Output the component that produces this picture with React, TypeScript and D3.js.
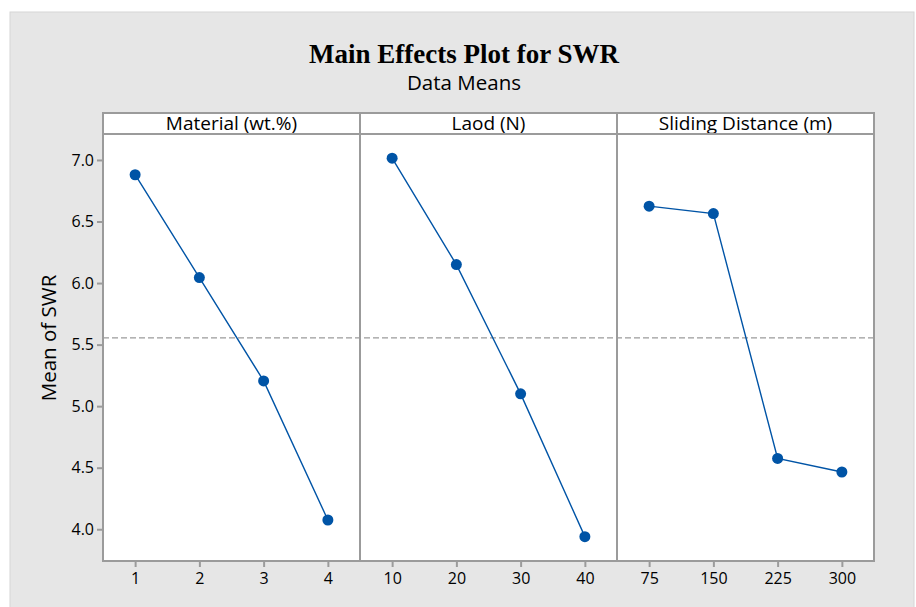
import { useEffect, useRef } from "react";
import * as d3 from "d3";

// factor levels and data means
const factors = ["Material (wt.%)", "Laod (N)", "Sliding Distance (m)"];
const materialLevels = ["1", "2", "3", "4"];
const loadLevels = ["10", "20", "30", "40"];
const distanceLevels = ["75", "150", "225", "300"];
const materialMeans = [6.88, 6.045, 5.205, 4.075];
const loadMeans = [7.015, 6.15, 5.1, 3.94];
const distanceMeans = [6.625, 6.565, 4.575, 4.465];
const yTicks = [4.0, 4.5, 5.0, 5.5, 6.0, 6.5, 7.0];
const grandMean = 5.555;

const levels = [materialLevels, loadLevels, distanceLevels];
const means = [materialMeans, loadMeans, distanceMeans];

const BLUE = "#0054a6";
const GRID = "#9b9b9b";
const SANS = "'Open Sans', 'Noto Sans', sans-serif";

const App = () => {
  const svgRef = useRef<SVGSVGElement | null>(null);

  useEffect(() => {
    const W = 916;
    const H = 607;
    const M = { left: 103, right: 874, top: 113, header: 134, bottom: 561 };

    const svg = d3.select(svgRef.current).attr("width", W).attr("height", H);
    svg.selectAll("*").remove();

    // grey background
    svg.append("rect").attr("width", W).attr("height", H).attr("fill", "#ffffff");
    svg
      .append("rect")
      .attr("x", 10)
      .attr("y", 12)
      .attr("width", 904)
      .attr("height", H)
      .attr("fill", "#e6e6e6")
      .attr("stroke", "#d6d6d6")
      .attr("stroke-width", 1);

    svg
      .append("text")
      .attr("x", 464)
      .attr("y", 63)
      .attr("text-anchor", "middle")
      .attr("font-family", "'Liberation Serif', 'Times New Roman', serif")
      .attr("font-weight", "bold")
      .attr("font-size", 27)
      .attr("fill", "#000")
      .text("Main Effects Plot for SWR");

    svg
      .append("text")
      .attr("x", 464)
      .attr("y", 90)
      .attr("text-anchor", "middle")
      .attr("font-family", SANS)
      .attr("font-size", 20.5)
      .attr("fill", "#000")
      .text("Data Means");

    const y = d3.scaleLinear().domain([3.742, 7.211]).range([M.bottom, M.header]);

    const panels = d3
      .scaleBand<number>()
      .domain(d3.range(factors.length))
      .range([M.left, M.right]);

    // white plot background
    svg
      .append("rect")
      .attr("x", M.left)
      .attr("y", M.top)
      .attr("width", M.right - M.left)
      .attr("height", M.bottom - M.top)
      .attr("fill", "#fff");

    // reference line at the grand mean
    svg
      .append("line")
      .attr("x1", M.left)
      .attr("x2", M.right)
      .attr("y1", y(grandMean))
      .attr("y2", y(grandMean))
      .attr("stroke", GRID)
      .attr("stroke-width", 1.2)
      .attr("stroke-dasharray", "6,3");

    // y axis
    const yAxis = svg
      .append("g")
      .attr("transform", `translate(${M.left},0)`)
      .call(
        d3
          .axisLeft(y)
          .tickValues(yTicks)
          .tickFormat(d3.format(".1f"))
          .tickSize(6)
          .tickSizeOuter(0)
      );
    yAxis.select(".domain").remove();
    yAxis.selectAll("line").attr("stroke", GRID).attr("stroke-width", 2);
    yAxis
      .selectAll("text")
      .attr("font-family", SANS)
      .attr("font-size", 16)
      .attr("fill", "#000")
      .attr("x", -9);

    svg
      .append("text")
      .attr("transform", `translate(56,338) rotate(-90)`)
      .attr("text-anchor", "middle")
      .attr("font-family", SANS)
      .attr("font-size", 20.5)
      .attr("fill", "#000")
      .text("Mean of SWR");

    factors.forEach((name, i) => {
      const x0 = panels(i)!;
      const bw = panels.bandwidth();
      const x = d3
        .scalePoint<string>()
        .domain(levels[i])
        .range([x0, x0 + bw])
        .padding(0.5);

      const xAxis = svg
        .append("g")
        .attr("transform", `translate(0,${M.bottom})`)
        .call(d3.axisBottom(x).tickSize(6).tickSizeOuter(0));
      xAxis.select(".domain").remove();
      xAxis.selectAll("line").attr("stroke", GRID).attr("stroke-width", 2);
      xAxis
        .selectAll("text")
        .attr("font-family", SANS)
        .attr("font-size", 16)
        .attr("fill", "#000")
        .attr("y", 12);

      const pts = levels[i].map((lv, j) => ({ lv, v: means[i][j] }));

      svg
        .append("path")
        .datum(pts)
        .attr("fill", "none")
        .attr("stroke", BLUE)
        .attr("stroke-width", 1.4)
        .attr(
          "d",
          d3
            .line<{ lv: string; v: number }>()
            .x((d) => x(d.lv)!)
            .y((d) => y(d.v))
        );

      svg
        .selectAll(`.dot${i}`)
        .data(pts)
        .enter()
        .append("circle")
        .attr("class", `dot${i}`)
        .attr("cx", (d) => x(d.lv)!)
        .attr("cy", (d) => y(d.v))
        .attr("r", 5.5)
        .attr("fill", BLUE);

      // header strip
      svg
        .append("rect")
        .attr("x", x0)
        .attr("y", M.top)
        .attr("width", bw)
        .attr("height", M.header - M.top)
        .attr("fill", "#fff")
        .attr("stroke", GRID)
        .attr("stroke-width", 2);

      svg
        .append("text")
        .attr("x", x0 + bw / 2)
        .attr("y", M.header - 4)
        .attr("text-anchor", "middle")
        .attr("font-family", SANS)
        .attr("font-size", 19)
        .attr("fill", "#000")
        .text(name);

      // panel frame
      svg
        .append("rect")
        .attr("x", x0)
        .attr("y", M.header)
        .attr("width", bw)
        .attr("height", M.bottom - M.header)
        .attr("fill", "none")
        .attr("stroke", GRID)
        .attr("stroke-width", 2);
    });
  }, []);

  return <svg ref={svgRef} style={{ display: "block", position: "absolute", left: 0, top: 0 }} />;
};

export default App;
